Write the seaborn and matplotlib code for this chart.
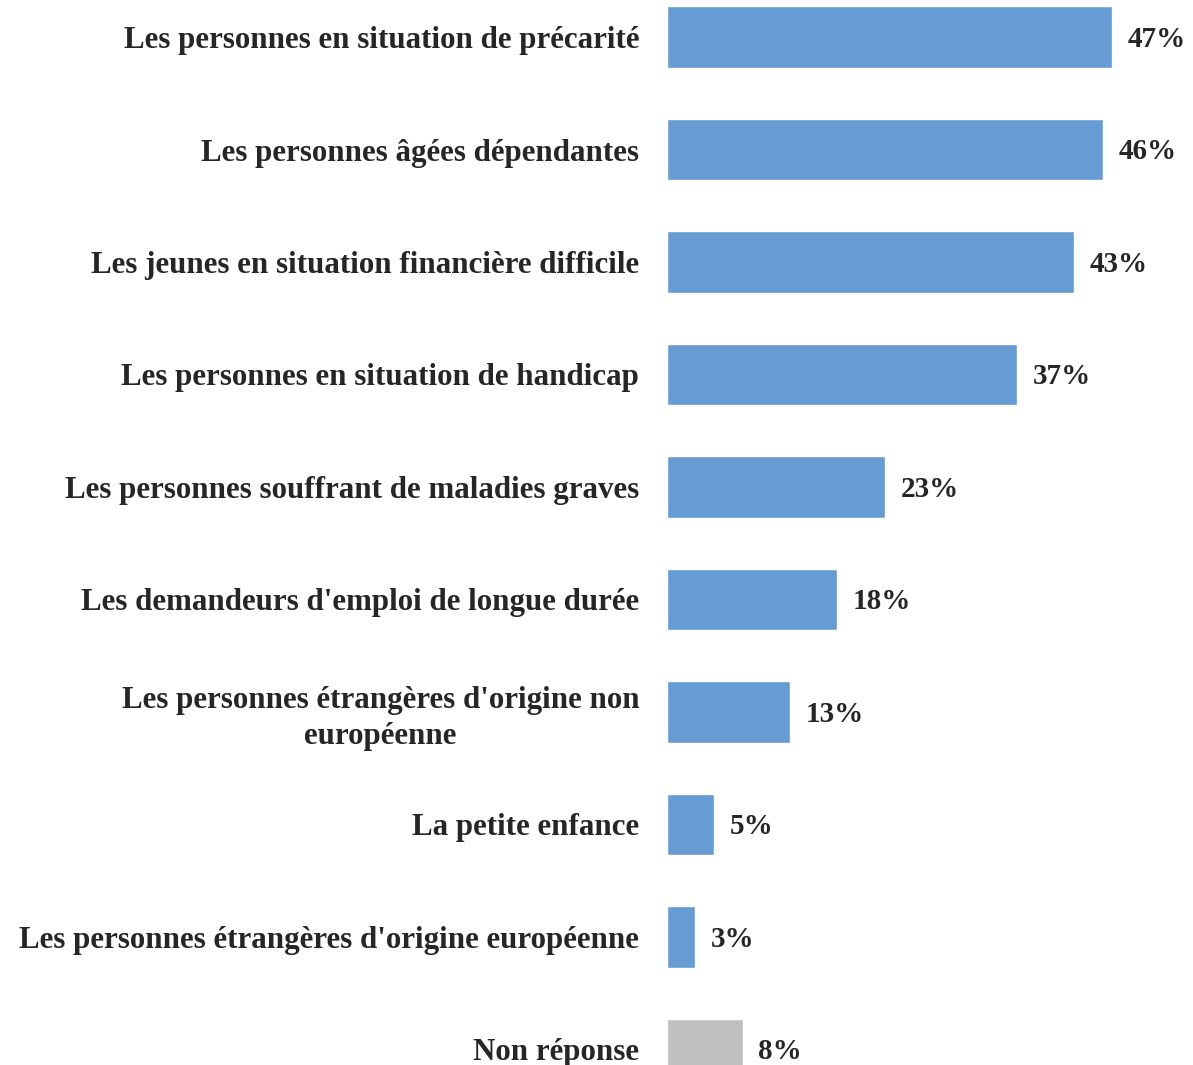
import matplotlib
matplotlib.use("Agg")
import matplotlib.pyplot as plt
import seaborn as sns
import pandas as pd

categories = [
    "Les personnes en situation de précarité",
    "Les personnes âgées dépendantes",
    "Les jeunes en situation financière difficile",
    "Les personnes en situation de handicap",
    "Les personnes souffrant de maladies graves",
    "Les demandeurs d'emploi de longue durée",
    "Les personnes étrangères d'origine non\neuropéenne",
    "La petite enfance",
    "Les personnes étrangères d'origine européenne",
    "Non réponse",
]
values = [47, 46, 43, 37, 23, 18, 13, 5, 3, 8]
bar_colors = ["#669CD3"] * 9 + ["#BFBFBF"]

df = pd.DataFrame({"cat": categories, "val": values})

sns.set_theme(style="white")
plt.rcParams["font.family"] = ["Liberation Serif", "DejaVu Serif"]

W, H = 1193, 1065
fig = plt.figure(figsize=(W / 100, H / 100), dpi=100)
ax = fig.add_axes([667 / W, 0, 1 - 667 / W, 1])

sns.barplot(data=df, x="val", y="cat", hue="cat", palette=bar_colors,
            legend=False, width=0.55, ax=ax, saturation=1)

ax.set_xlim(0, (W - 667) / 9.47)
ax.set_ylim(9.138, -0.329)
for s in ax.spines.values():
    s.set_visible(False)
ax.set_xticks([])
ax.set_xlabel("")
ax.set_ylabel("")
ax.tick_params(axis="y", length=0, pad=20)
ax.set_yticks(range(len(categories)))
ax.set_yticklabels(categories, fontsize=22.3, fontweight="bold", color="#262626",
                   multialignment="center", linespacing=1.3)

for i, v in enumerate(values):
    ax.text(v + 1.65, i + 0.02, f"{v}%", va="center", ha="left", fontsize=21,
            fontweight="bold", color="#262626")

fig.savefig("out.png", dpi=100)
